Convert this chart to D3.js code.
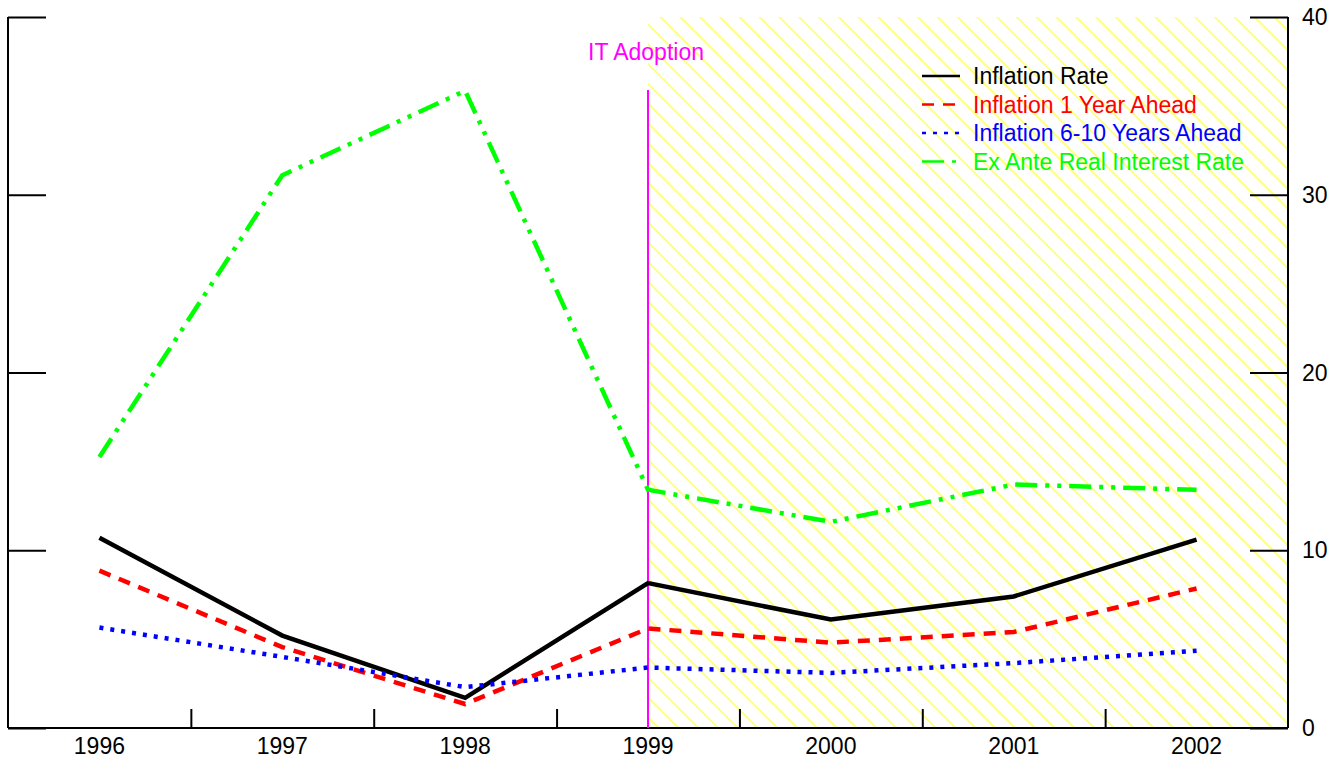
<!DOCTYPE html>
<html>
<head>
<meta charset="utf-8">
<script src="https://cdn.jsdelivr.net/npm/d3@7"></script>
<style>
  html, body { margin: 0; padding: 0; background: #fff; }
  svg { display: block; font-family: "Liberation Sans", Arial, sans-serif; }
</style>
</head>
<body>
<svg id="chart"></svg>
<script>
// data
const years = [1996, 1997, 1998, 1999, 2000, 2001, 2002];
const inflationRate = [10.7, 5.2, 1.7, 8.15, 6.1, 7.4, 10.6];
const inflation1Year = [8.85, 4.55, 1.35, 5.6, 4.8, 5.4, 7.85];
const inflation6to10 = [5.65, 4.0, 2.3, 3.4, 3.1, 3.65, 4.35];
const realRate = [15.25, 31.1, 35.85, 13.4, 11.6, 13.7, 13.4];
const yTicks = [0, 10, 20, 30, 40];
const halfYearTicks = [1996.5, 1997.5, 1998.5, 1999.5, 2000.5, 2001.5];
const adoptionYear = 1999;

const series = [
    {name: "Inflation Rate", values: inflationRate, color: "#000000", dash: null},
    {name: "Inflation 1 Year Ahead", values: inflation1Year, color: "#ff0000", dash: "12,9"},
    {name: "Inflation 6-10 Years Ahead", values: inflation6to10, color: "#0000ff", dash: "4,7"},
    {name: "Ex Ante Real Interest Rate", values: realRate, color: "#00ff00", dash: "22,8,4,8,4,8"}
];

const WIDTH = 1342, HEIGHT = 759;
const LEFT = 8, RIGHT = 1288, TOP = 17, BOTTOM = 728;
const TICK = 38;
const FONT = 23;

const svg = d3.select("#chart").attr("width", WIDTH).attr("height", HEIGHT);

const x = d3.scaleLinear().domain([1995.5, 2002.5]).range([LEFT, RIGHT]);
const y = d3.scaleLinear().domain([0, 40]).range([BOTTOM, TOP]);

// hatch pattern for the inflation targeting period
const HATCH = 14;
svg.append("defs")
    .append("pattern")
    .attr("id", "hatch")
    .attr("patternUnits", "userSpaceOnUse")
    .attr("width", HATCH)
    .attr("height", HATCH)
    .attr("patternTransform", "rotate(-45)")
    .append("line")
    .attr("x1", HATCH / 2).attr("y1", 0)
    .attr("x2", HATCH / 2).attr("y2", HATCH)
    .attr("stroke", "#ffff00")
    .attr("stroke-width", 1);

svg.append("rect")
    .attr("x", x(adoptionYear))
    .attr("y", TOP)
    .attr("width", x(2002.5) - x(adoptionYear))
    .attr("height", BOTTOM - TOP)
    .attr("fill", "url(#hatch)");

// axes
svg.append("g")
    .attr("transform", `translate(0,${BOTTOM})`)
    .call(d3.axisTop(x).tickValues(halfYearTicks).tickSize(19).tickFormat(""))
    .call(g => g.select(".domain").remove());

svg.append("line")
    .attr("x1", LEFT).attr("x2", RIGHT)
    .attr("y1", BOTTOM).attr("y2", BOTTOM)
    .attr("stroke", "#000").attr("stroke-width", 2);

svg.append("g")
    .selectAll("text")
    .data(years)
    .enter()
    .append("text")
    .attr("x", (d) => x(d))
    .attr("y", 754)
    .attr("text-anchor", "middle")
    .attr("font-size", FONT)
    .text((d) => d);

svg.append("g")
    .attr("transform", `translate(${LEFT},0)`)
    .call(d3.axisRight(y).tickValues(yTicks).tickSize(TICK).tickFormat(""))
    .call(g => g.select(".domain").remove());

svg.append("g")
    .attr("transform", `translate(${RIGHT},0)`)
    .call(d3.axisLeft(y).tickValues(yTicks).tickSize(TICK).tickFormat(""))
    .call(g => g.select(".domain").remove());

svg.selectAll(".tick line").attr("stroke", "#000").attr("stroke-width", 2);

[LEFT, RIGHT].forEach((px) => {
    svg.append("line")
        .attr("x1", px).attr("x2", px)
        .attr("y1", TOP).attr("y2", BOTTOM)
        .attr("stroke", "#000").attr("stroke-width", 2);
});

svg.append("g")
    .selectAll("text")
    .data(yTicks)
    .enter()
    .append("text")
    .attr("x", RIGHT + 14)
    .attr("y", (d) => y(d))
    .attr("dy", "0.35em")
    .attr("font-size", FONT)
    .text((d) => d);

// IT adoption marker
svg.append("line")
    .attr("x1", x(adoptionYear)).attr("x2", x(adoptionYear))
    .attr("y1", 90).attr("y2", BOTTOM)
    .attr("stroke", "#ff00ff").attr("stroke-width", 2);

svg.append("text")
    .attr("x", x(adoptionYear) - 2)
    .attr("y", 60)
    .attr("text-anchor", "middle")
    .attr("font-size", FONT)
    .attr("fill", "#ff00ff")
    .text("IT Adoption");

// series lines
const line = d3.line()
    .x((d, i) => x(years[i]))
    .y((d) => y(d));

svg.append("g")
    .selectAll("path")
    .data(series)
    .enter()
    .append("path")
    .attr("d", (d) => line(d.values))
    .attr("fill", "none")
    .attr("stroke", (d) => d.color)
    .attr("stroke-width", 4.5)
    .attr("stroke-dasharray", (d) => d.dash);

// legend
const legend = svg.append("g")
    .selectAll("g")
    .data(series)
    .enter()
    .append("g")
    .attr("transform", (d, i) => `translate(922,${76 + i * 28.5})`);

legend.append("line")
    .attr("x1", 0).attr("x2", 38)
    .attr("y1", 0).attr("y2", 0)
    .attr("stroke", (d) => d.color)
    .attr("stroke-width", 2.5)
    .attr("stroke-dasharray", (d) => d.dash);

legend.append("text")
    .attr("x", 51)
    .attr("y", 0)
    .attr("dy", "0.35em")
    .attr("font-size", FONT)
    .attr("fill", (d) => d.color)
    .text((d) => d.name);
</script>
</body>
</html>
